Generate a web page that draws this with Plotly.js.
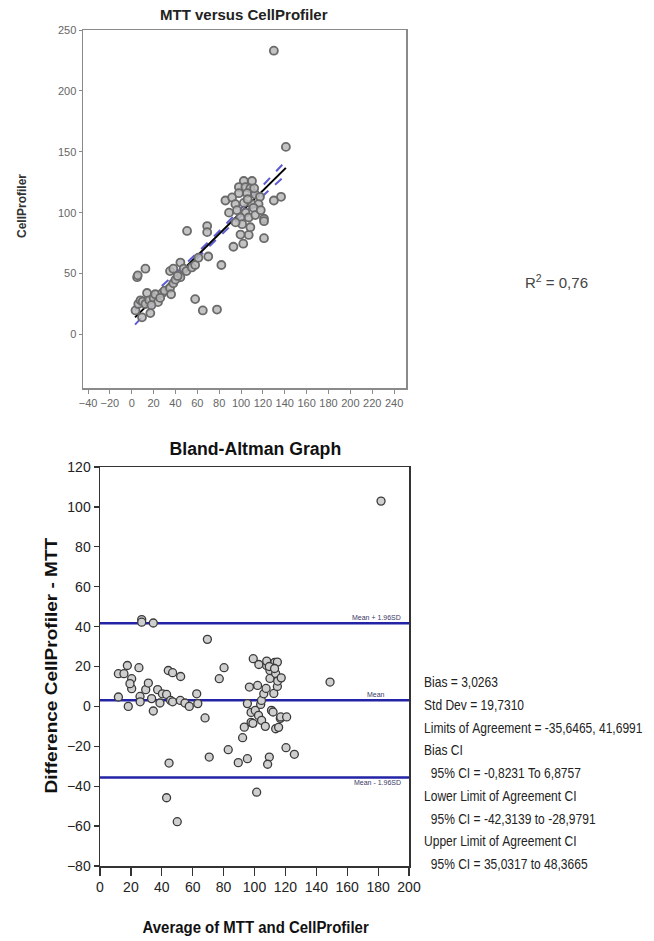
<!DOCTYPE html>
<html>
<head>
<meta charset="utf-8">
<script src="https://cdn.plot.ly/plotly-3.0.1.min.js"></script>
<style>html,body{margin:0;padding:0;background:#fff;}#chart{width:654px;height:941px;}</style>
</head>
<body>
<div id="chart"></div>
<script>
// ---------- Top chart: MTT versus CellProfiler ----------
const mttX = [3.4,4.9,5.5,12.5,6,8,10,9.4,17,14,12.5,16,20,24,21.5,28,30,35,36,38,35,38,44.5,44.5,47.5,50,50.6,55,58,58,61,65,69,69,70,78,82,85.7,93,102,107,121,121,121,130,136.6,130,141,40,42,26,18,
  102.5,110,98,104,108.5,91.8,98,105.5,113,117.3,94.8,102.5,110,116,96.3,104,111.4,99.4,107,101,108.5,99.5,113,118,95,106,89,112];
const cpY  = [19.7,47,48.5,54,25,28,27,14,17.5,34,25,28,30,26.5,33,34,36,38,33,42,52,54,59,47,54,52,85,55,57,29,63,19.7,89,84,64,20.4,57,110,72,74.5,81.7,79,95,93,110,113,233,154,45,48,30,24,
  126,126,121,121,120,112.5,116,116,115,113,107,108,107,107,102,100,104,96,96,90.5,88,82,98,102,92,111,100,120];
// regression line and confidence bands
const fitX   = [3, 40, 72, 105, 141];
const fitY   = [14, 47, 75.4, 104.8, 136.8];
const bandHi = [20, 50, 77.5, 108, 142.5];
const bandLo = [8, 44, 73.3, 101.6, 131];
const r2Text = "R<sup>2</sup> = 0,76";

// ---------- Bottom chart: Bland-Altman ----------
const baAvg = [11.9,15.5,17.7,25.2,20.5,20.5,19.4,11.9,18.3,25.9,26,29.6,31.3,33.4,34.5,37.3,38.8,40.4,43.1,44.2,47,45.7,47,44.7,43.1,50,52.2,52,55,57.8,62.6,63.3,68,70.7,77.2,80.3,83,89.5,92.3,93.4,95.4,95.4,96.7,97.8,97.8,99,100.5,102,101.4,102.6,104,104.5,104.6,106,107,107.5,107.8,109.6,108.5,110,110,111,112,112.5,113,113.7,113.7,114.8,115,115.6,116.7,117.3,117,120.4,120.8,125.8,148.9,181.9,27,27,34.5,69.5,99.2,102.8,107.9,114.8,109.6,113];
const baDiff = [16.4,16.4,20.5,19.4,13.9,8.9,11.4,4.7,0,5,2.3,8.4,11.7,3.9,-2.3,8.4,1.7,6.3,6,18,16.9,3,2.3,-28.4,-45.8,-57.8,15,3,1.7,0,6.3,1.4,-5.8,-25.4,13.9,19.4,-21.7,-28.2,-15.7,-10.4,1.4,-26.2,9.7,-3,-8,-8.5,-2,10.5,-43,-4.5,1,3,-7,6.3,-10,9,20.5,-25.4,-29,14,18,-2,-2.8,6.5,22,-11.2,16.5,10,12.7,-10.5,-6,14.3,-5.3,-20.7,-5.3,-24,12.2,102.9,43.5,42.2,41.8,33.6,23.9,21,22.7,22.2,20,19];
const bias = 3.0263;
const loaLow = -35.6465;
const loaHigh = 41.6991;
const lineLabels = ["Mean + 1.96SD", "Mean", "Mean - 1.96SD"];
const statLines = [
  "Bias = 3,0263",
  "Std Dev = 19,7310",
  "Limits of Agreement = -35,6465, 41,6991",
  "Bias CI",
  "  95% CI = -0,8231 To 6,8757",
  "Lower Limit of Agreement CI",
  "  95% CI = -42,3139 to -28,9791",
  "Upper Limit of Agreement CI",
  "  95% CI = 35,0317 to 48,3665"
];

const W = 654, H = 941;
const px = v => v / W;
const py = v => 1 - v / H;
const SANS = "Liberation Sans, Arial, sans-serif";

const traces = [
  {x: fitX, y: bandHi, xaxis:'x', yaxis:'y', mode:'lines', line:{color:'#5c5cd0', width:2, dash:'dash'}, hoverinfo:'skip'},
  {x: fitX, y: bandLo, xaxis:'x', yaxis:'y', mode:'lines', line:{color:'#5c5cd0', width:2, dash:'dash'}, hoverinfo:'skip'},
  {x: fitX, y: fitY, xaxis:'x', yaxis:'y', mode:'lines', line:{color:'#000', width:2}, hoverinfo:'skip'},
  {x: mttX, y: cpY, xaxis:'x', yaxis:'y', mode:'markers',
   marker:{symbol:'circle', size:8, color:'rgba(185,185,185,0.85)', line:{color:'#6a6a6a', width:1.8}}},
  {x: [0, 200], y: [loaHigh, loaHigh], xaxis:'x2', yaxis:'y2', mode:'lines', line:{color:'#2323a6', width:2.5}},
  {x: [0, 200], y: [bias, bias], xaxis:'x2', yaxis:'y2', mode:'lines', line:{color:'#2323a6', width:2.5}},
  {x: [0, 200], y: [loaLow, loaLow], xaxis:'x2', yaxis:'y2', mode:'lines', line:{color:'#2323a6', width:2.5}},
  {x: baAvg, y: baDiff, xaxis:'x2', yaxis:'y2', mode:'markers',
   marker:{symbol:'circle', size:8, color:'#cfcfcf', line:{color:'#3a3a3a', width:1.3}}}
];

const annotations = [];
const stretch = [];  // horizontal compression of each annotation's text (narrow typeface look)
function addAnn(a, k, origin) { annotations.push(a); stretch.push({k: k || 1, origin: origin || 'center'}); }

addAnn({text:"<b>MTT versus CellProfiler</b>", x:px(244), y:py(15), xref:'paper', yref:'paper', showarrow:false, xanchor:'center', yanchor:'middle', font:{family:SANS, size:15, color:'#222'}});
addAnn({text:"<b>CellProfiler</b>", x:px(22), y:py(206), xref:'paper', yref:'paper', showarrow:false, textangle:-90, xanchor:'center', yanchor:'middle', font:{family:SANS, size:12, color:'#333'}});
addAnn({text:r2Text, x:px(556), y:py(281), xref:'paper', yref:'paper', showarrow:false, xanchor:'center', yanchor:'middle', font:{family:SANS, size:15, color:'#444'}});
addAnn({text:"<b>Bland-Altman Graph</b>", x:px(255), y:py(448), xref:'paper', yref:'paper', showarrow:false, xanchor:'center', yanchor:'middle', font:{family:SANS, size:19, color:'#111'}}, 0.93);
addAnn({text:"<b>Difference CellProfiler - MTT</b>", x:px(51), y:py(666), xref:'paper', yref:'paper', showarrow:false, textangle:-90, xanchor:'center', yanchor:'middle', font:{family:SANS, size:17, color:'#111'}}, 1.12);
addAnn({text:"<b>Average of MTT and CellProfiler</b>", x:px(256), y:py(927), xref:'paper', yref:'paper', showarrow:false, xanchor:'center', yanchor:'middle', font:{family:SANS, size:17, color:'#111'}}, 0.88);
addAnn({text:lineLabels[0], x:196, y:loaHigh, xref:'x2', yref:'y2', showarrow:false, xanchor:'right', yanchor:'bottom', font:{family:SANS, size:7, color:'#3a3a66'}});
addAnn({text:lineLabels[1], x:186, y:bias, xref:'x2', yref:'y2', showarrow:false, xanchor:'right', yanchor:'bottom', font:{family:SANS, size:7, color:'#3a3a66'}});
addAnn({text:lineLabels[2], x:196, y:loaLow, xref:'x2', yref:'y2', showarrow:false, xanchor:'right', yanchor:'top', yshift:1, font:{family:SANS, size:7, color:'#3a3a66'}});
statLines.forEach((t, i) => {
  addAnn({text: t.replace(/ /g, '&nbsp;'), x:px(422), y:py(682 + i*22.75), xref:'paper', yref:'paper', showarrow:false,
    xanchor:'left', yanchor:'middle', font:{family:SANS, size:14, color:'#222'}}, 0.86, 'left center');
});

const layout = {
  width: W, height: H,
  margin:{l:0, r:0, t:0, b:0},
  paper_bgcolor:'#fff', plot_bgcolor:'#fff',
  showlegend:false,
  xaxis:{domain:[px(83), px(406)], range:[-44.6, 250.9], anchor:'y', tickvals:[-40,-20,0,20,40,60,80,100,120,140,160,180,200,220,240],
    showgrid:false, zeroline:false, showline:true, mirror:true, linecolor:'#8a8a8a', linewidth:1.5,
    ticks:'outside', ticklen:4, tickcolor:'#8a8a8a', tickwidth:1, tickfont:{family:SANS, size:11, color:'#666'}},
  yaxis:{domain:[py(388), py(30)], range:[-44, 250], anchor:'x', tickvals:[0,50,100,150,200,250],
    showgrid:false, zeroline:false, showline:true, mirror:true, linecolor:'#8a8a8a', linewidth:1.5,
    ticks:'outside', ticklen:3, tickcolor:'#8a8a8a', tickwidth:1, tickfont:{family:SANS, size:11, color:'#666'}},
  xaxis2:{domain:[px(100), px(409)], range:[0, 200], anchor:'y2', dtick:20,
    showgrid:false, zeroline:false, showline:true, mirror:true, linecolor:'#333', linewidth:1.5,
    ticks:'outside', ticklen:8, tickcolor:'#333', tickwidth:1.2, tickfont:{family:SANS, size:14, color:'#222'}},
  yaxis2:{domain:[py(866), py(467)], range:[-80, 120], anchor:'x2', dtick:20,
    showgrid:false, zeroline:false, showline:true, mirror:true, linecolor:'#333', linewidth:1.5,
    ticks:'outside', ticklen:5, tickcolor:'#333', tickwidth:1.2, tickfont:{family:SANS, size:14, color:'#222'}},
  annotations: annotations
};

Plotly.newPlot('chart', traces, layout, {displayModeBar:false, staticPlot:true}).then(() => {
  document.querySelectorAll('#chart .annotation').forEach(g => {
    const i = +g.getAttribute('data-index');
    const s = stretch[i];
    if (!s || s.k === 1) return;
    const t = g.querySelector('text.annotation-text');
    if (!t) return;
    t.style.transformBox = 'fill-box';
    t.style.transformOrigin = s.origin;
    t.style.transform = 'scaleX(' + s.k + ')';
  });
});
</script>
</body>
</html>
